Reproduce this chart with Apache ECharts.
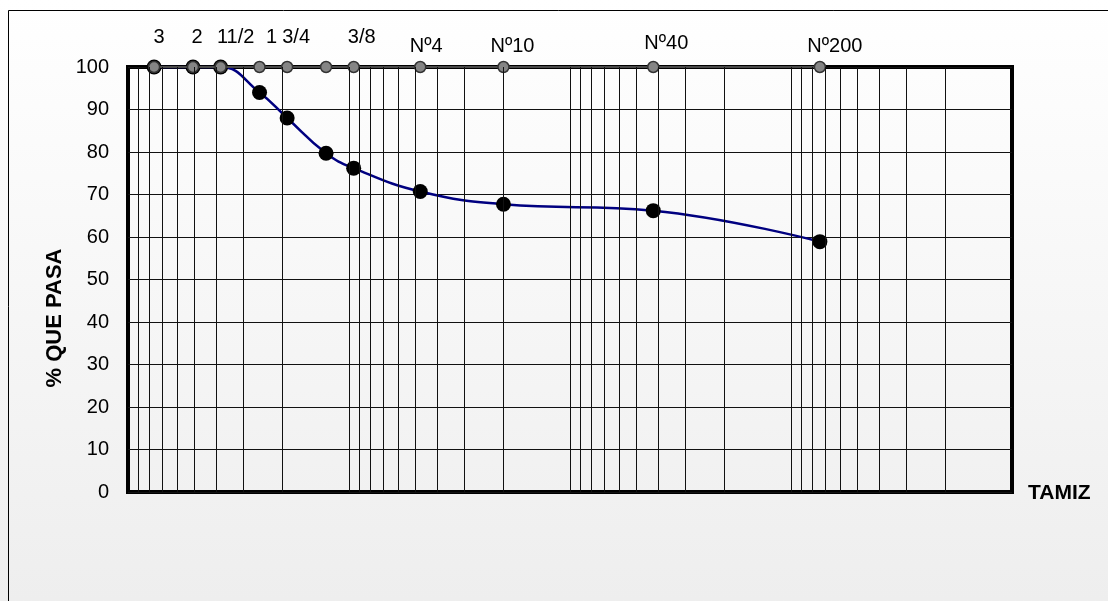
<!DOCTYPE html>
<html>
<head>
<meta charset="utf-8">
<title>Curva granulométrica</title>
<script src="https://cdn.jsdelivr.net/npm/echarts@6/dist/echarts.min.js"></script>
<style>
  html, body { margin: 0; padding: 0; background: #fff; }
  #chart { width: 1108px; height: 601px; }
</style>
</head>
<body>
<div id="chart"></div>
<script>
// Sieve openings (mm), their names and the percentage passing each sieve
const sieveOpeningsMm = [76.2, 50.8, 38.1, 25.4, 19.05, 12.7, 9.525, 4.76, 2.0, 0.42, 0.074];
const sieveNames = ['3', '2', '11/2', '1', '3/4', '', '3/8', 'Nº4', 'Nº10', 'Nº40', 'Nº200'];
const percentPassing = [100, 100, 100, 94, 88, 79.7, 76.2, 70.7, 67.7, 66.2, 58.9];
// Row of sieve markers drawn along the 100 % line
const sieveMarkRow = [100, 100, 100, 100, 100, 100, 100, 100, 100, 100, 100];
// Y axis ticks
const yTicks = [0, 10, 20, 30, 40, 50, 60, 70, 80, 90, 100];

// Nudges for the sieve name labels above the markers [dx, dy]
const labelNudge = [[5, -13], [4, -13], [15, -13], [12, -13], [9, -13], [0, 0],
                    [8, -13], [6, -4], [9, -4], [13, -7], [15, -4]];

// Log-cycle grid lines: 1..9 × each decade between 0.01 mm and 100 mm
const logGrid = [];
for (let e = -2; e <= 1; e++) {
  for (let m = 1; m <= 9; m++) {
    const v = m * Math.pow(10, e);
    if (v > 0.01 && v < 100) logGrid.push(+v.toPrecision(3));
  }
}

const FONT = 'Arial, "Liberation Sans", sans-serif';
const chart = echarts.init(document.getElementById('chart'));

const option = {
  animation: false,
  backgroundColor: {
    type: 'linear', x: 0, y: 0, x2: 0, y2: 1,
    colorStops: [{ offset: 0, color: '#ffffff' }, { offset: 1, color: '#eeeeee' }]
  },
  grid: {
    left: 128, right: 96, top: 67, bottom: 109,
    show: true, borderColor: '#000', borderWidth: 4, backgroundColor: 'transparent'
  },
  xAxis: {
    type: 'log', logBase: 10, min: 0.01, max: 100, inverse: true,
    axisLine: { show: false }, axisTick: { show: false },
    axisLabel: { show: false }, splitLine: { show: false }
  },
  yAxis: {
    type: 'value', min: yTicks[0], max: yTicks[yTicks.length - 1], interval: 10,
    axisLine: { show: false }, axisTick: { show: false },
    axisLabel: { color: '#000', fontSize: 20, fontFamily: FONT, margin: 19 },
    splitLine: { lineStyle: { color: '#111', width: 1 } }
  },
  graphic: [
    {
      type: 'rect', silent: true, z: 0,
      shape: { x: 8.5, y: 10.5, width: 1200, height: 700 },
      style: { fill: 'none', stroke: '#000', lineWidth: 1 }
    },
    {
      type: 'text', x: 55, y: 318, rotation: Math.PI / 2,
      style: { text: '% QUE PASA', font: 'bold 22px ' + FONT, fill: '#000',
               align: 'center', verticalAlign: 'middle' }
    },
    {
      type: 'text', x: 1028, y: 493,
      style: { text: 'TAMIZ', font: 'bold 21px ' + FONT, fill: '#000',
               align: 'left', verticalAlign: 'middle' }
    }
  ],
  series: [
    {
      // vertical log grid
      type: 'line', data: [], z: 1, silent: true,
      markLine: {
        silent: true, symbol: 'none', label: { show: false },
        lineStyle: { color: '#111', width: 1, type: 'solid' },
        data: logGrid.map(v => ({ xAxis: v }))
      }
    },
    {
      name: '% que pasa', type: 'line', z: 3,
      data: sieveOpeningsMm.map((d, i) => [d, percentPassing[i]]),
      smooth: 0.45,
      symbol: 'circle', symbolSize: 15,
      itemStyle: { color: '#000' },
      lineStyle: { color: '#000080', width: 2.5 }
    },
    {
      name: 'Tamices', type: 'line', z: 4,
      data: sieveOpeningsMm.map((d, i) => ({
        value: [d, sieveMarkRow[i]],
        label: { offset: labelNudge[i] }
      })),
      symbol: 'circle', symbolSize: 11,
      itemStyle: { color: '#858585', borderColor: '#333', borderWidth: 1.5 },
      lineStyle: { color: '#4a4a4a', width: 2 },
      label: {
        show: true, position: 'top', distance: 0,
        color: '#000', fontSize: 20, fontFamily: FONT,
        formatter: p => sieveNames[p.dataIndex]
      }
    }
  ]
};

chart.setOption(option);
</script>
</body>
</html>
